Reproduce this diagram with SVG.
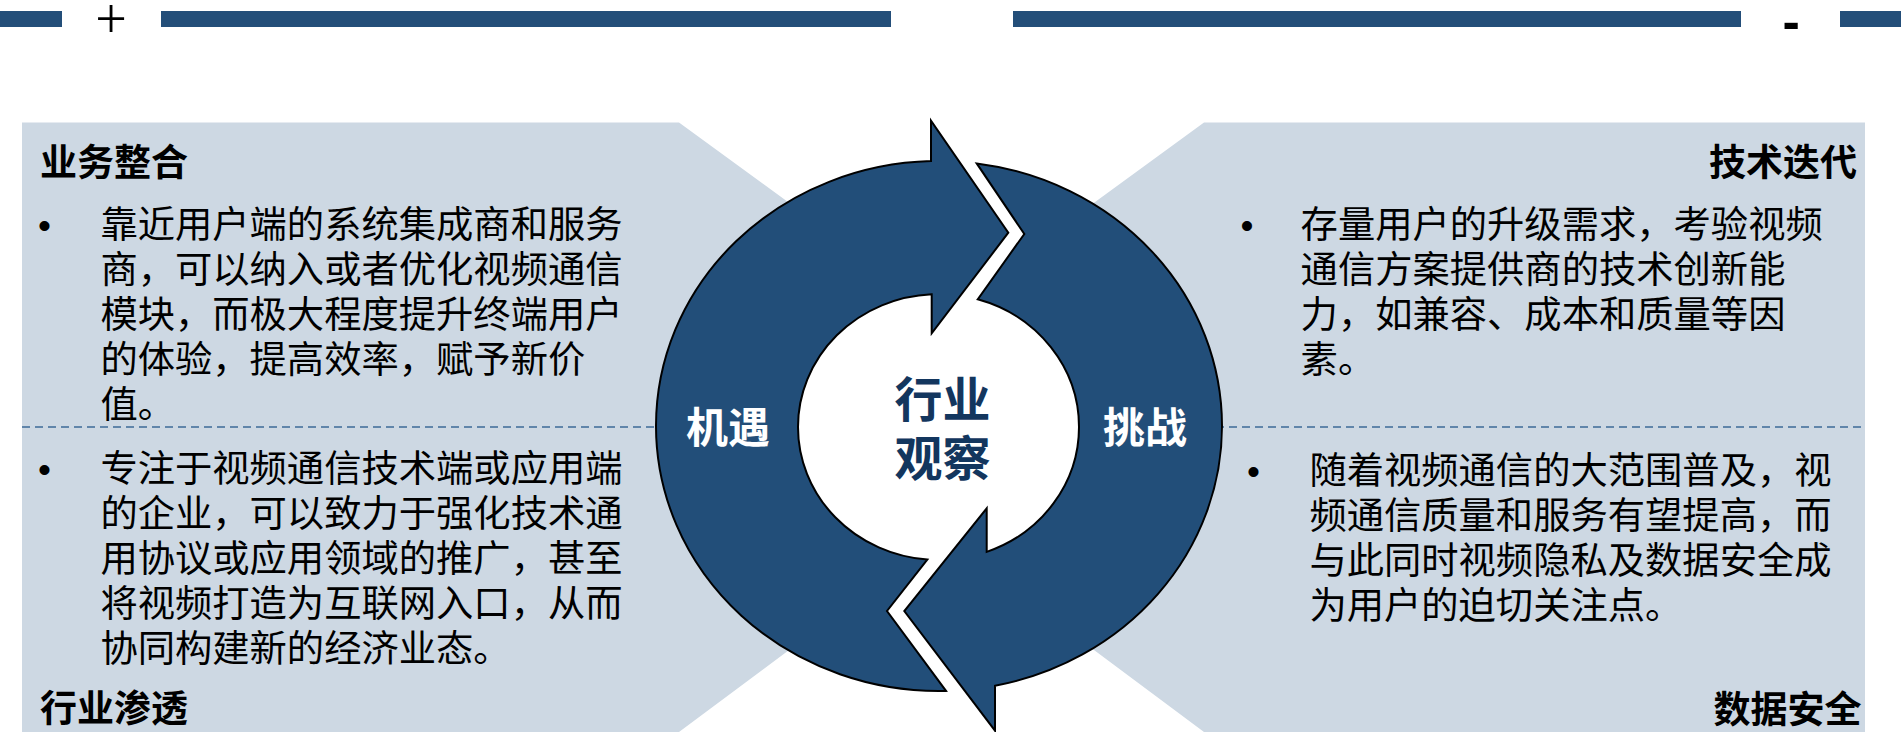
<svg xmlns="http://www.w3.org/2000/svg" width="1901" height="732" viewBox="0 0 1901 732">
<style>
.bar{fill:#234E79}
.panel{fill:#CDD8E3}
.dash{stroke:#3C6A98;stroke-width:1.6;stroke-dasharray:8 5;fill:none}
.band{fill:#224E79;stroke:#000;stroke-width:2;stroke-linejoin:miter}
.body{font-family:"Noto Sans CJK SC","Noto Sans",sans-serif;font-size:37.3px;fill:#000}
.bul{font-family:"Liberation Sans",Arial,sans-serif;font-size:37px;fill:#000}
.title{font-family:"Noto Sans CJK SC","Noto Sans",sans-serif;font-size:37px;font-weight:bold;fill:#000}
.lab{font-family:"Noto Sans CJK SC","Noto Sans",sans-serif;font-size:42px;font-weight:bold;fill:#fff}
.ctr{font-family:"Noto Sans CJK SC","Noto Sans",sans-serif;font-size:48px;font-weight:bold;fill:#13365E}
</style>
<rect width="1901" height="732" fill="#fff"/>
<g id="header">
<rect class="bar" x="0" y="11" width="62" height="16"/>
<rect class="bar" x="161" y="11" width="730" height="16"/>
<rect class="bar" x="1013" y="11" width="728" height="16"/>
<rect class="bar" x="1840" y="11" width="61" height="16"/>
<text x="111" y="38" text-anchor="middle" font-family="Liberation Serif,serif" font-size="56" fill="#000">+</text>
<text x="1782.6" y="38.5" font-family="Liberation Sans,Arial,sans-serif" font-weight="bold" font-size="52" fill="#000">-</text>
</g>
<g id="panel-left">
<polygon class="panel" points="22,122.5 679,122.5 840,240 720,427 840,612 679,732 22,732"/>
<line class="dash" x1="22" y1="427" x2="662" y2="427"/>
</g>
<g id="panel-right">
<polygon class="panel" points="1204,122.5 1865,122.5 1865,732 1204,732 1043,612 1160,427 1043,240"/>
<line class="dash" x1="1216" y1="427" x2="1865" y2="427"/>
</g>
<g id="connectors">
<path id="arrow-opportunity" class="band" d="M931 161.1 A283 265 0 0 0 656 426 A283 265 0 0 0 946 690.9 L887 611 L927.3 559.6 A140.5 133 0 0 1 798 427 A140.5 133 0 0 1 931.7 294.2 L931.7 333.3 L1008.3 232.7 L931 120.7 Z"/>
<path id="arrow-challenge" class="band" d="M976.7 163.4 A283 265 0 0 1 1222 426 A283 265 0 0 1 995 685.8 L995 730.7 L904.3 611 L986.7 508.3 L986.7 551.9 A140.5 133 0 0 0 1079 427 A140.5 133 0 0 0 977.7 299.3 L1024.3 234 Z"/>
</g>
<g id="label-opportunity"><text class="lab" x="728" y="442.5" text-anchor="middle">机遇</text></g>
<g id="label-challenge"><text class="lab" x="1145" y="442.5" text-anchor="middle">挑战</text></g>
<g id="center">
<text class="ctr" x="942.5" y="417" text-anchor="middle">行业</text>
<text class="ctr" x="942.5" y="476" text-anchor="middle">观察</text>
</g>
<g id="node-business-integration">
<text class="title" x="40" y="175.5">业务整合</text>
<text class="bul" x="44.6" y="237.5" text-anchor="middle">•</text>
<text class="body" x="100.4" y="237.5">靠近用户端的系统集成商和服务</text>
<text class="body" x="100.4" y="282.5">商，可以纳入或者优化视频通信</text>
<text class="body" x="100.4" y="327.5">模块，而极大程度提升终端用户</text>
<text class="body" x="100.4" y="372.5">的体验，提高效率，赋予新价</text>
<text class="body" x="100.4" y="417.5">值。</text>
</g>
<g id="node-industry-penetration">
<text class="bul" x="44.6" y="481.5" text-anchor="middle">•</text>
<text class="body" x="100.4" y="481.5">专注于视频通信技术端或应用端</text>
<text class="body" x="100.4" y="526.5">的企业，可以致力于强化技术通</text>
<text class="body" x="100.4" y="571.5">用协议或应用领域的推广，甚至</text>
<text class="body" x="100.4" y="616.5">将视频打造为互联网入口，从而</text>
<text class="body" x="100.4" y="661.5">协同构建新的经济业态。</text>
<text class="title" x="40" y="721.5">行业渗透</text>
</g>
<g id="node-tech-iteration">
<text class="title" x="1857" y="175.5" text-anchor="end">技术迭代</text>
<text class="bul" x="1247" y="237.5" text-anchor="middle">•</text>
<text class="body" x="1300.6" y="237.5">存量用户的升级需求，考验视频</text>
<text class="body" x="1300.6" y="282.5">通信方案提供商的技术创新能</text>
<text class="body" x="1300.6" y="327.5">力，如兼容、成本和质量等因</text>
<text class="body" x="1300.6" y="372.5">素。</text>
</g>
<g id="node-data-security">
<text class="bul" x="1253.6" y="484" text-anchor="middle">•</text>
<text class="body" x="1309.4" y="484">随着视频通信的大范围普及，视</text>
<text class="body" x="1309.4" y="529">频通信质量和服务有望提高，而</text>
<text class="body" x="1309.4" y="574">与此同时视频隐私及数据安全成</text>
<text class="body" x="1309.4" y="619">为用户的迫切关注点。</text>
<text class="title" x="1861.5" y="723" text-anchor="end">数据安全</text>
</g>
</svg>
